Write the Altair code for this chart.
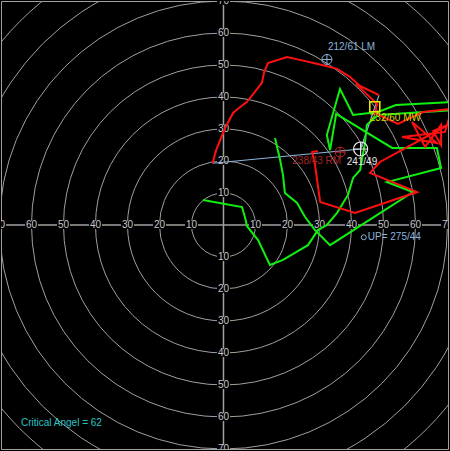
import altair as alt
import numpy as np
import pandas as pd

# ---- hodograph data: wind components (knots), u east-west, v north-south ----
# observed profile (red trace)
RED_U = [-3.4, -2.3, 0.5, 3.0, 5.2, 7.3, 12.0, 12.7, 13.9, 19.8, 23.9, 30.8, 35.5,
         39.5, 42.7, 48.6, 41.4, 48.0, 47.3, 54.5, 62.3, 71.4, 69.2, 55.8, 66.7,
         58.9, 63.0, 68.0, 68.0, 65.5, 70.8, 48.9, 45.8, 60.5, 41.1, 30.2, 28.6,
         27.7, 29.5]
RED_V = [19.3, 23.4, 30.3, 35.0, 36.9, 38.4, 44.4, 47.8, 50.6, 52.5, 51.6, 50.0, 48.8,
         46.3, 43.4, 40.6, 44.1, 37.8, 35.0, 31.6, 35.3, 36.3, 29.1, 27.5, 25.6,
         32.2, 24.4, 31.3, 25.0, 29.4, 31.6, 19.7, 16.3, 10.3, 3.8, 7.2, 18.8,
         22.8, 23.1]

# model profile (green trace)
GREEN_U = [-6.4, 5.8, 7.0, 7.3, 10.8, 14.5, 18.6, 26.4, 29.5, 32.3, 35.5, 38.9, 40.5,
           42.7, 44.2, 44.8, 48.3, 71.4, 73.3, 71.4, 53.9, 48.3, 40.5, 36.4, 32.3,
           33.3, 35.2, 52.7, 66.7, 68.0, 51.1, 59.2, 33.3, 28.6, 25.5, 23.0, 19.2,
           18.6, 17.7, 16.1]
GREEN_V = [7.8, 5.6, 1.3, -0.3, -4.7, -12.5, -10.9, -6.3, -1.6, 0.0, 3.8, 9.4, 14.7,
           17.2, 25.6, 31.3, 34.4, 35.9, 37.2, 38.4, 37.5, 35.3, 34.4, 42.5, 28.1,
           23.4, 34.7, 24.1, 24.1, 17.8, 13.4, 10.3, -6.3, -1.6, 2.5, 6.9, 10.0,
           15.6, 20.3, 27.2]

# storm motions: direction (deg) / speed (kt)
LM_DIR, LM_SPD = 212, 61
MW_DIR, MW_SPD = 232, 60
RM_DIR, RM_SPD = 238, 43
SM_DIR, SM_SPD = 241, 49
UP_DIR, UP_SPD = 275, 44
CRITICAL_ANGLE = 62

RINGS = [10, 20, 30, 40, 50, 60, 70, 80, 90, 100]
TICKS = [-70, -60, -50, -40, -30, -20, -10, 10, 20, 30, 40, 50, 60, 70]

# ---- layout ----
W, H = 447, 448
UMIN, UMAX = -69.53, 70.16
VMIN, VMAX = -70.0, 70.0
PX = W / (UMAX - UMIN)          # pixels per knot

GRID = "#a0a0a0"
RED = "#ff1010"
GREEN = "#10f010"
BLUE = "#8cb4dc"
FONT = "Liberation Sans"


def uv(direction, speed):
    rad = np.deg2rad(direction)
    return float(-speed * np.sin(rad)), float(-speed * np.cos(rad))


xs = alt.X("u:Q", scale=alt.Scale(domain=[UMIN, UMAX], nice=False, zero=False), axis=None)
ys = alt.Y("v:Q", scale=alt.Scale(domain=[VMIN, VMAX], nice=False, zero=False), axis=None)

# speed rings
rings = pd.DataFrame({"u": 0.0, "v": 0.0, "spd": RINGS})
rings["size"] = (2 * rings["spd"] * PX) ** 2
ring_layer = alt.Chart(rings).mark_point(
    shape="circle", filled=False, color=GRID, strokeWidth=1, opacity=1, clip=True
).encode(x=xs, y=ys, size=alt.Size("size:Q", scale=None))

# axes through the origin
vline = alt.Chart(pd.DataFrame({"u": [0.0]})).mark_rule(color=GRID, strokeWidth=1.5).encode(x=xs)
hline = alt.Chart(pd.DataFrame({"v": [0.0]})).mark_rule(color=GRID, strokeWidth=1.5).encode(y=ys)

# tick labels on both axes (absolute speed)
tick_rows = [{"u": float(t), "v": 0.0, "label": str(abs(t))} for t in TICKS]
tick_rows += [{"u": 0.0, "v": float(t), "label": str(abs(t))} for t in TICKS]
ticks = pd.DataFrame(tick_rows)
tick_bg = alt.Chart(ticks).mark_point(
    shape="M-1,-0.6L1,-0.6L1,0.6L-1,0.6Z", filled=True, color="black",
    size=169, opacity=1, strokeWidth=0, clip=True
).encode(x=xs, y=ys)
tick_text = alt.Chart(ticks).mark_text(
    font=FONT, fontSize=10, color="#c8c8c8", align="center", baseline="middle", clip=True
).encode(x=xs, y=ys, text="label:N")

# traces
red = pd.DataFrame({"u": RED_U, "v": RED_V, "i": range(len(RED_U))})
green = pd.DataFrame({"u": GREEN_U, "v": GREEN_V, "i": range(len(GREEN_U))})
red_line = alt.Chart(red).mark_line(color=RED, strokeWidth=2, clip=True).encode(x=xs, y=ys, order="i:Q")
green_line = alt.Chart(green).mark_line(color=GREEN, strokeWidth=2, clip=True).encode(x=xs, y=ys, order="i:Q")

# storm-relative line: surface wind -> storm motion -> upper wind
sm_u, sm_v = uv(SM_DIR, SM_SPD)
blue = pd.DataFrame({"u": [RED_U[0], sm_u, RED_U[15]], "v": [RED_V[0], sm_v, RED_V[15]], "i": [0, 1, 2]})
blue_line = alt.Chart(blue).mark_line(color=BLUE, strokeWidth=1.2, clip=True).encode(x=xs, y=ys, order="i:Q")

CROSS = "M-1,0A1,1,0,1,1,1,0A1,1,0,1,1,-1,0M-1,0L1,0M0,-1L0,1"


def marker(direction, speed, **mark):
    u, v = uv(direction, speed)
    return alt.Chart(pd.DataFrame({"u": [u], "v": [v]})).mark_point(opacity=1, **mark).encode(x=xs, y=ys)


def label(direction, speed, text, color, align, dx, dy):
    u, v = uv(direction, speed)
    return alt.Chart(pd.DataFrame({"u": [u], "v": [v], "t": [text]})).mark_text(
        font=FONT, fontSize=10, color=color, align=align, baseline="middle", dx=dx, dy=dy
    ).encode(x=xs, y=ys, text="t:N")


lm_mark = marker(LM_DIR, LM_SPD, shape=CROSS, filled=False, color=BLUE, size=100, strokeWidth=1)
rm_mark = marker(RM_DIR, RM_SPD, shape=CROSS, filled=False, color="#c02828", size=100, strokeWidth=1)
sm_mark = marker(SM_DIR, SM_SPD, shape=CROSS, filled=False, color="#e8e8e8", size=196, strokeWidth=1.2)
mw_mark = marker(MW_DIR, MW_SPD, shape="square", filled=False, color="#e8e800", size=100, strokeWidth=1.6)
up_mark = marker(UP_DIR, UP_SPD, shape="circle", filled=False, color=BLUE, size=25, strokeWidth=1)

lm_text = label(LM_DIR, LM_SPD, f"{LM_DIR}/{LM_SPD} LM", BLUE, "left", 1, -12)
mw_text = label(MW_DIR, MW_SPD, f"{MW_DIR}/{MW_SPD} MW", "#d4d400", "left", -5, 11)
rm_text = label(RM_DIR, RM_SPD, f"{RM_DIR}/{RM_SPD} RM", "#a82424", "right", 1, 9)
sm_text = label(SM_DIR, SM_SPD, f"{SM_DIR}/{SM_SPD}", "#e6e6e6", "left", -14, 13)
up_text = label(UP_DIR, UP_SPD, f"UP= {UP_DIR}/{UP_SPD}", BLUE, "left", 4, 0)

crit = alt.Chart(pd.DataFrame({"u": [UMIN], "v": [VMIN], "t": [f"Critical Angel = {CRITICAL_ANGLE}"]})).mark_text(
    font=FONT, fontSize=10, color="#2cc4c4", align="left", baseline="middle", dx=20, dy=-26
).encode(x=xs, y=ys, text="t:N")

chart = alt.layer(
    ring_layer, vline, hline, tick_bg, tick_text,
    blue_line, green_line, red_line,
    lm_mark, rm_mark, sm_mark, mw_mark, up_mark,
    lm_text, mw_text, rm_text, sm_text, up_text, crit,
).properties(
    width=W, height=H,
    padding={"left": 1, "top": 1, "right": 2, "bottom": 2},
    autosize=alt.AutoSizeParams(type="none"),
    background="black",
).configure_view(fill="black", stroke=GRID, strokeWidth=1)

chart.save("out.html", embed_options={"renderer": "svg", "actions": False})
